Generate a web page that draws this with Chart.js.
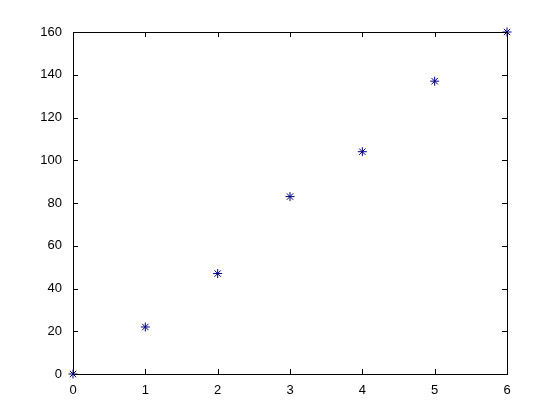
<!DOCTYPE html>
<html>
<head>
<meta charset="utf-8">
<script src="https://cdn.jsdelivr.net/npm/chart.js@4/dist/chart.umd.min.js"></script>
<style>
  html, body { margin: 0; padding: 0; background: #fff; }
  canvas { display: block; }
</style>
</head>
<body>
<canvas id="plot" width="560" height="420"></canvas>
<script>
const xValues = [0, 1, 2, 3, 4, 5, 6];
const yValues = [0, 22, 47, 83, 104, 137, 160];
const xTicks = [0, 1, 2, 3, 4, 5, 6];
const yTicks = [0, 20, 40, 60, 80, 100, 120, 140, 160];

const markerColor = "#00007f";
const axisColor = "#000";
const tickFont = { family: "Liberation Sans, Arial, sans-serif", size: 13 };

// MATLAB-style box with inward ticks on all four sides
const boxAxes = {
  id: "boxAxes",
  afterDraw(chart) {
    const { ctx, chartArea: a, scales } = chart;
    const len = 5;
    ctx.save();
    ctx.strokeStyle = axisColor;
    ctx.lineWidth = 1;
    ctx.strokeRect(a.left + 0.5, a.top + 0.5, a.right - a.left, a.bottom - a.top);
    ctx.beginPath();
    xTicks.forEach((v) => {
      const px = Math.round(scales.x.getPixelForValue(v)) + 0.5;
      ctx.moveTo(px, a.bottom);
      ctx.lineTo(px, a.bottom - len);
      ctx.moveTo(px, a.top);
      ctx.lineTo(px, a.top + len);
    });
    yTicks.forEach((v) => {
      const py = Math.round(scales.y.getPixelForValue(v)) + 0.5;
      ctx.moveTo(a.left, py);
      ctx.lineTo(a.left + len, py);
      ctx.moveTo(a.right, py);
      ctx.lineTo(a.right - len, py);
    });
    ctx.stroke();
    ctx.restore();
  },
};

new Chart(document.getElementById("plot"), {
  type: "scatter",
  data: {
    datasets: [
      {
        data: xValues.map((x, i) => ({ x, y: yValues[i] })),
        pointStyle: "star",
        pointRadius: 4.5,
        pointHoverRadius: 4.5,
        borderColor: markerColor,
        backgroundColor: markerColor,
        borderWidth: 1,
        clip: false,
      },
    ],
  },
  options: {
    responsive: false,
    animation: false,
    layout: { padding: { left: 0, right: 53, top: 32, bottom: 0 } },
    plugins: { legend: { display: false }, tooltip: { enabled: false } },
    scales: {
      x: {
        type: "linear",
        min: 0,
        max: 6,
        afterBuildTicks: (s) => { s.ticks = xTicks.map((v) => ({ value: v })); },
        afterFit: (s) => { s.height = 46; },
        grid: { display: false },
        border: { display: false },
        ticks: { color: axisColor, font: tickFont, padding: 1, maxRotation: 0 },
      },
      y: {
        type: "linear",
        min: 0,
        max: 160,
        afterBuildTicks: (s) => { s.ticks = yTicks.map((v) => ({ value: v })); },
        afterFit: (s) => { s.width = 73; },
        grid: { display: false },
        border: { display: false },
        ticks: { color: axisColor, font: tickFont, padding: 3 },
      },
    },
  },
  plugins: [boxAxes],
});
</script>
</body>
</html>
